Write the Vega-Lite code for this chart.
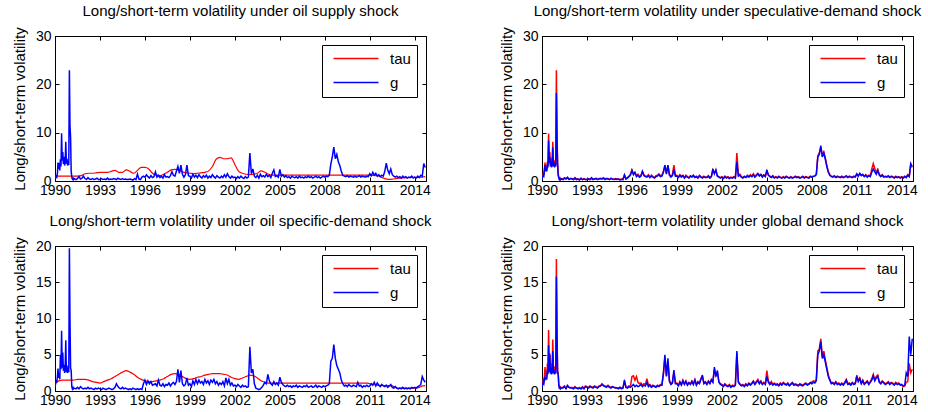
{
"$schema": "https://vega.github.io/schema/vega-lite/v6.json",
"padding": {"left": 11, "top": 3, "right": 0, "bottom": 0},
"config": {
 "font": "Liberation Sans",
 "view": {"stroke": "black", "strokeWidth": 1},
 "axis": {"grid": false, "domainColor": "black", "tickColor": "black", "labelColor": "black", "titleColor": "black", "labelFontSize": 14, "titleFontSize": 15, "titleFontWeight": "normal", "tickSize": -4, "labelOverlap": false, "labelFlush": false},
 "title": {"fontSize": 15, "fontWeight": "normal", "offset": 8, "color": "black"}
},
"datasets": {
"tau1": [
{"t":1990,"v":1.0},{"t":1990.5,"v":1.0},{"t":1991,"v":1.0},{"t":1991.5,"v":1.0},{"t":1991.75,"v":1.1},{"t":1992,"v":1.5},{"t":1992.25,"v":1.6},{"t":1992.5,"v":1.6},{"t":1992.75,"v":1.7},{"t":1993,"v":1.8},{"t":1993.25,"v":1.8},{"t":1993.5,"v":1.8},{"t":1993.75,"v":2.0},{"t":1994,"v":2.2},{"t":1994.25,"v":1.8},{"t":1994.5,"v":1.8},{"t":1994.75,"v":2.3},{"t":1995,"v":2.0},{"t":1995.25,"v":1.6},{"t":1995.5,"v":2.2},{"t":1995.75,"v":2.8},{"t":1996,"v":2.8},{"t":1996.25,"v":2.5},{"t":1996.5,"v":1.6},{"t":1996.75,"v":1.2},{"t":1997,"v":1.1},{"t":1997.25,"v":1.4},{"t":1997.5,"v":1.8},{"t":1997.75,"v":2.3},{"t":1998,"v":2.4},{"t":1998.25,"v":2.3},{"t":1998.5,"v":1.9},{"t":1998.75,"v":1.7},{"t":1999,"v":1.6},{"t":1999.25,"v":1.5},{"t":1999.5,"v":1.6},{"t":1999.75,"v":1.7},{"t":2000,"v":1.8},{"t":2000.25,"v":2.1},{"t":2000.5,"v":3.0},{"t":2000.75,"v":4.5},{"t":2001,"v":4.9},{"t":2001.25,"v":4.6},{"t":2001.5,"v":4.6},{"t":2001.75,"v":4.8},{"t":2002,"v":3.4},{"t":2002.25,"v":2.0},{"t":2002.5,"v":1.6},{"t":2002.75,"v":1.4},{"t":2003,"v":1.3},{"t":2003.25,"v":1.4},{"t":2003.5,"v":1.6},{"t":2003.75,"v":2.1},{"t":2004,"v":1.8},{"t":2004.25,"v":1.4},{"t":2004.5,"v":1.2},{"t":2005,"v":1.2},{"t":2008,"v":1.2},{"t":2011,"v":1.2},{"t":2011.5,"v":1.1},{"t":2011.75,"v":0.8},{"t":2012,"v":0.5},{"t":2012.25,"v":0.35},{"t":2012.5,"v":0.4},{"t":2012.75,"v":0.5},{"t":2013,"v":0.6},{"t":2013.5,"v":0.7},{"t":2014,"v":0.75},{"t":2014.5,"v":0.8},{"t":2014.7,"v":0.9}
],
"tau3": [
{"t":1990,"v":1.0},{"t":1990.25,"v":1.4},{"t":1990.5,"v":1.5},{"t":1990.75,"v":1.5},{"t":1991,"v":1.5},{"t":1991.25,"v":1.5},{"t":1991.5,"v":1.6},{"t":1991.75,"v":1.6},{"t":1992,"v":1.6},{"t":1992.25,"v":1.5},{"t":1992.5,"v":1.3},{"t":1992.75,"v":1.2},{"t":1993,"v":1.1},{"t":1993.25,"v":1.3},{"t":1993.5,"v":1.5},{"t":1993.75,"v":1.7},{"t":1994,"v":2.0},{"t":1994.25,"v":2.3},{"t":1994.5,"v":2.6},{"t":1994.75,"v":2.8},{"t":1995,"v":2.6},{"t":1995.25,"v":2.3},{"t":1995.5,"v":1.9},{"t":1995.75,"v":1.6},{"t":1996,"v":1.4},{"t":1996.25,"v":1.3},{"t":1996.5,"v":1.3},{"t":1996.75,"v":1.4},{"t":1997,"v":1.5},{"t":1997.25,"v":1.7},{"t":1997.5,"v":2.0},{"t":1997.75,"v":2.3},{"t":1998,"v":2.4},{"t":1998.25,"v":2.3},{"t":1998.5,"v":2.0},{"t":1998.75,"v":1.7},{"t":1999,"v":1.6},{"t":1999.25,"v":1.7},{"t":1999.5,"v":1.9},{"t":1999.75,"v":2.0},{"t":2000,"v":2.2},{"t":2000.25,"v":2.3},{"t":2000.5,"v":2.4},{"t":2000.75,"v":2.4},{"t":2001,"v":2.4},{"t":2001.25,"v":2.3},{"t":2001.5,"v":2.2},{"t":2001.75,"v":1.9},{"t":2002,"v":1.7},{"t":2002.25,"v":1.6},{"t":2002.5,"v":1.8},{"t":2002.75,"v":2.0},{"t":2003,"v":2.2},{"t":2003.25,"v":2.1},{"t":2003.5,"v":1.8},{"t":2003.75,"v":1.4},{"t":2004,"v":1.2},{"t":2004.25,"v":1.1},{"t":2005,"v":1.1},{"t":2008,"v":1.1},{"t":2010.8,"v":1.1},{"t":2011,"v":1.0},{"t":2011.5,"v":0.8},{"t":2012,"v":0.75},{"t":2012.5,"v":0.7},{"t":2012.75,"v":0.45},{"t":2013,"v":0.4},{"t":2013.5,"v":0.4},{"t":2014,"v":0.4},{"t":2014.3,"v":0.5},{"t":2014.5,"v":0.7},{"t":2014.7,"v":0.75}
],
"w": [
{"t":1990,"g1":0.4,"tau2":0.5,"g2":0.4,"g3":0.5,"tau4":0.6,"g4":0.5},
{"t":1990.04,"g1":0.7,"tau2":1.0,"g2":0.8,"g3":1.0,"tau4":1.1,"g4":0.9},
{"t":1990.08,"g1":1.0,"tau2":1.5,"g2":1.2,"g3":1.5,"tau4":1.5,"g4":1.2},
{"t":1990.12,"g1":0.8,"tau2":1.2,"g2":1.0,"g3":1.2,"tau4":1.3,"g4":1.0},
{"t":1990.16,"g1":1.5,"tau2":2.4,"g2":2.0,"g3":2.0,"tau4":2.0,"g4":1.6},
{"t":1990.2,"g1":3.8,"tau2":3.8,"g2":3.3,"g3":3.1,"tau4":3.3,"g4":2.0},
{"t":1990.24,"g1":2.5,"tau2":2.3,"g2":2.0,"g3":1.8,"tau4":2.0,"g4":1.5},
{"t":1990.28,"g1":3.7,"tau2":3.2,"g2":2.8,"g3":2.5,"tau4":2.6,"g4":2.0},
{"t":1990.32,"g1":2.2,"tau2":2.4,"g2":2.0,"g3":1.6,"tau4":2.0,"g4":1.6},
{"t":1990.36,"g1":4.5,"tau2":4.0,"g2":3.5,"g3":5.0,"tau4":3.8,"g4":3.0},
{"t":1990.4,"g1":3.0,"tau2":3.3,"g2":2.8,"g3":3.0,"tau4":2.9,"g4":2.3},
{"t":1990.44,"g1":9.9,"tau2":9.8,"g2":8.4,"g3":8.3,"tau4":8.4,"g4":6.3},
{"t":1990.48,"g1":4.2,"tau2":4.5,"g2":3.8,"g3":3.2,"tau4":3.3,"g4":2.6},
{"t":1990.52,"g1":6.0,"tau2":6.0,"g2":5.0,"g3":5.3,"tau4":5.2,"g4":5.0},
{"t":1990.56,"g1":3.5,"tau2":3.5,"g2":3.0,"g3":2.8,"tau4":3.0,"g4":2.4},
{"t":1990.6,"g1":5.0,"tau2":4.7,"g2":4.0,"g3":3.6,"tau4":3.8,"g4":3.2},
{"t":1990.64,"g1":3.2,"tau2":3.3,"g2":2.8,"g3":2.5,"tau4":2.9,"g4":2.3},
{"t":1990.68,"g1":4.0,"tau2":4.0,"g2":3.5,"g3":3.4,"tau4":3.4,"g4":2.8},
{"t":1990.72,"g1":8.1,"tau2":8.1,"g2":7.0,"g3":7.0,"tau4":7.1,"g4":5.5},
{"t":1990.76,"g1":3.6,"tau2":3.6,"g2":3.0,"g3":2.6,"tau4":3.0,"g4":2.4},
{"t":1990.8,"g1":4.6,"tau2":4.4,"g2":3.8,"g3":3.5,"tau4":3.4,"g4":2.9},
{"t":1990.84,"g1":3.2,"tau2":3.2,"g2":2.8,"g3":2.5,"tau4":2.8,"g4":2.3},
{"t":1990.88,"g1":4.0,"tau2":4.0,"g2":3.4,"g3":3.2,"tau4":3.1,"g4":2.7},
{"t":1990.92,"g1":3.3,"tau2":3.4,"g2":3.0,"g3":2.6,"tau4":2.8,"g4":2.4},
{"t":1990.96,"g1":22.9,"tau2":22.9,"g2":18.2,"g3":19.7,"tau4":18.2,"g4":15.8},
{"t":1991,"g1":11.5,"tau2":11.0,"g2":8.0,"g3":9.8,"tau4":8.3,"g4":7.5},
{"t":1991.04,"g1":9.0,"tau2":3.6,"g2":3.5,"g3":3.2,"tau4":2.8,"g4":2.5},
{"t":1991.08,"g1":2.0,"tau2":1.5,"g2":1.2,"g3":2.8,"tau4":2.5,"g4":2.3},
{"t":1991.12,"g1":0.8,"tau2":0.8,"g2":0.6,"g3":0.6,"tau4":1.0,"g4":0.8},
{"t":1991.16,"g1":0.4,"tau2":0.4,"g2":0.3,"g3":0.3,"tau4":0.5,"g4":0.4},
{"t":1991.2,"g1":0.6,"tau2":0.6,"g2":0.5,"g3":0.5,"tau4":0.6,"g4":0.5},
{"t":1991.24,"g1":0.3,"tau2":0.3,"g2":0.3,"g3":0.3,"tau4":0.4,"g4":0.3},
{"t":1991.28,"g1":0.5,"tau2":0.5,"g2":0.4,"g3":0.4,"tau4":0.5,"g4":0.4},
{"t":1991.4,"g1":0.3,"tau2":0.4,"g2":0.3,"g3":0.3,"tau4":0.5,"g4":0.4},
{"t":1991.5,"g1":0.5,"tau2":0.7,"g2":0.6,"g3":0.5,"tau4":0.7,"g4":0.6},
{"t":1991.6,"g1":0.9,"tau2":0.5,"g2":0.4,"g3":0.3,"tau4":0.4,"g4":0.3},
{"t":1991.7,"g1":0.4,"tau2":0.8,"g2":0.7,"g3":0.6,"tau4":0.8,"g4":0.7},
{"t":1991.8,"g1":0.6,"tau2":0.4,"g2":0.3,"g3":0.4,"tau4":0.5,"g4":0.5},
{"t":1991.9,"g1":1.0,"tau2":0.5,"g2":0.5,"g3":0.3,"tau4":0.5,"g4":0.4},
{"t":1992,"g1":0.5,"tau2":0.5,"g2":0.4,"g3":0.4,"tau4":0.5,"g4":0.4},
{"t":1992.1,"g1":0.3,"tau2":0.3,"g2":0.3,"g3":0.3,"tau4":0.4,"g4":0.3},
{"t":1992.2,"g1":0.7,"tau2":0.7,"g2":0.6,"g3":0.5,"tau4":0.6,"g4":0.5},
{"t":1992.3,"g1":0.4,"tau2":0.4,"g2":0.3,"g3":0.3,"tau4":0.4,"g4":0.4},
{"t":1992.4,"g1":0.3,"tau2":0.4,"g2":0.4,"g3":0.4,"tau4":0.4,"g4":0.3},
{"t":1992.5,"g1":0.5,"tau2":0.3,"g2":0.2,"g3":0.3,"tau4":0.5,"g4":0.4},
{"t":1992.6,"g1":0.3,"tau2":0.6,"g2":0.5,"g3":0.2,"tau4":0.3,"g4":0.3},
{"t":1992.7,"g1":0.4,"tau2":0.3,"g2":0.3,"g3":0.4,"tau4":0.6,"g4":0.5},
{"t":1992.8,"g1":0.6,"tau2":0.5,"g2":0.4,"g3":0.3,"tau4":0.4,"g4":0.3},
{"t":1992.9,"g1":0.3,"tau2":0.3,"g2":0.3,"g3":0.4,"tau4":0.7,"g4":0.6},
{"t":1993,"g1":0.3,"tau2":0.3,"g2":0.3,"g3":0.3,"tau4":0.6,"g4":0.5},
{"t":1993.1,"g1":0.5,"tau2":0.5,"g2":0.4,"g3":0.2,"tau4":0.5,"g4":0.4},
{"t":1993.2,"g1":0.3,"tau2":0.3,"g2":0.3,"g3":0.4,"tau4":0.7,"g4":0.6},
{"t":1993.3,"g1":0.4,"tau2":0.7,"g2":0.6,"g3":0.3,"tau4":0.6,"g4":0.5},
{"t":1993.4,"g1":0.3,"tau2":0.4,"g2":0.3,"g3":0.2,"tau4":0.5,"g4":0.4},
{"t":1993.5,"g1":0.6,"tau2":0.4,"g2":0.4,"g3":0.3,"tau4":0.7,"g4":0.6},
{"t":1993.6,"g1":0.3,"tau2":0.6,"g2":0.5,"g3":0.4,"tau4":0.6,"g4":0.5},
{"t":1993.7,"g1":0.4,"tau2":0.3,"g2":0.3,"g3":0.3,"tau4":0.5,"g4":0.4},
{"t":1993.8,"g1":0.3,"tau2":0.5,"g2":0.4,"g3":0.2,"tau4":0.7,"g4":0.6},
{"t":1993.9,"g1":0.5,"tau2":0.5,"g2":0.5,"g3":0.3,"tau4":0.7,"g4":0.7},
{"t":1994,"g1":0.4,"tau2":0.5,"g2":0.4,"g3":0.5,"tau4":1.0,"g4":0.9},
{"t":1994.1,"g1":0.3,"tau2":0.7,"g2":0.6,"g3":1.0,"tau4":0.8,"g4":0.7},
{"t":1994.2,"g1":0.6,"tau2":0.4,"g2":0.3,"g3":0.6,"tau4":0.7,"g4":0.6},
{"t":1994.3,"g1":0.4,"tau2":0.5,"g2":0.5,"g3":0.4,"tau4":0.6,"g4":0.5},
{"t":1994.4,"g1":0.3,"tau2":0.5,"g2":0.4,"g3":0.3,"tau4":0.8,"g4":0.7},
{"t":1994.5,"g1":0.5,"tau2":0.3,"g2":0.3,"g3":0.5,"tau4":0.6,"g4":0.5},
{"t":1994.6,"g1":0.3,"tau2":0.6,"g2":0.5,"g3":0.3,"tau4":0.5,"g4":0.4},
{"t":1994.7,"g1":0.4,"tau2":0.4,"g2":0.4,"g3":0.4,"tau4":0.6,"g4":0.6},
{"t":1994.8,"g1":0.3,"tau2":0.3,"g2":0.3,"g3":0.3,"tau4":0.5,"g4":0.5},
{"t":1994.9,"g1":0.3,"tau2":0.5,"g2":0.4,"g3":0.2,"tau4":0.5,"g4":0.4},
{"t":1995,"g1":0.4,"tau2":0.4,"g2":0.3,"g3":0.3,"tau4":0.4,"g4":0.4},
{"t":1995.1,"g1":0.3,"tau2":0.4,"g2":0.4,"g3":0.2,"tau4":0.4,"g4":0.3},
{"t":1995.2,"g1":0.2,"tau2":0.3,"g2":0.2,"g3":0.4,"tau4":0.5,"g4":0.5},
{"t":1995.3,"g1":0.5,"tau2":0.4,"g2":0.3,"g3":0.3,"tau4":0.4,"g4":0.3},
{"t":1995.4,"g1":0.3,"tau2":0.3,"g2":0.3,"g3":0.2,"tau4":0.4,"g4":0.4},
{"t":1995.5,"g1":1.4,"tau2":1.3,"g2":1.2,"g3":0.3,"tau4":1.3,"g4":1.5},
{"t":1995.6,"g1":0.4,"tau2":0.5,"g2":0.4,"g3":0.2,"tau4":0.6,"g4":0.5},
{"t":1995.7,"g1":0.3,"tau2":0.7,"g2":0.6,"g3":0.3,"tau4":0.5,"g4":0.4},
{"t":1995.8,"g1":0.8,"tau2":1.0,"g2":0.9,"g3":0.2,"tau4":0.7,"g4":0.6},
{"t":1995.9,"g1":1.0,"tau2":1.4,"g2":1.2,"g3":1.0,"tau4":0.6,"g4":0.5},
{"t":1996,"g1":0.8,"tau2":2.3,"g2":2.2,"g3":1.5,"tau4":2.0,"g4":0.7},
{"t":1996.1,"g1":1.3,"tau2":1.5,"g2":1.3,"g3":0.9,"tau4":2.1,"g4":0.9},
{"t":1996.2,"g1":0.9,"tau2":1.7,"g2":1.8,"g3":1.4,"tau4":1.5,"g4":0.6},
{"t":1996.3,"g1":0.6,"tau2":1.1,"g2":0.9,"g3":1.0,"tau4":2.0,"g4":0.8},
{"t":1996.4,"g1":1.1,"tau2":1.4,"g2":1.2,"g3":1.3,"tau4":1.2,"g4":0.6},
{"t":1996.5,"g1":0.7,"tau2":0.9,"g2":0.8,"g3":0.8,"tau4":1.0,"g4":0.7},
{"t":1996.6,"g1":0.9,"tau2":1.2,"g2":1.0,"g3":0.9,"tau4":1.1,"g4":0.9},
{"t":1996.7,"g1":1.9,"tau2":2.0,"g2":2.0,"g3":1.0,"tau4":0.8,"g4":0.6},
{"t":1996.8,"g1":0.8,"tau2":1.3,"g2":1.1,"g3":0.7,"tau4":1.0,"g4":0.8},
{"t":1996.9,"g1":1.2,"tau2":1.0,"g2":0.9,"g3":1.5,"tau4":0.9,"g4":0.7},
{"t":1997,"g1":0.7,"tau2":1.0,"g2":0.8,"g3":0.8,"tau4":1.7,"g4":1.2},
{"t":1997.1,"g1":1.0,"tau2":1.3,"g2":1.1,"g3":0.7,"tau4":0.8,"g4":0.6},
{"t":1997.2,"g1":0.6,"tau2":0.8,"g2":0.7,"g3":1.0,"tau4":0.9,"g4":0.8},
{"t":1997.3,"g1":1.3,"tau2":1.2,"g2":1.0,"g3":0.6,"tau4":0.6,"g4":0.5},
{"t":1997.4,"g1":0.8,"tau2":0.9,"g2":0.8,"g3":0.9,"tau4":0.8,"g4":0.7},
{"t":1997.5,"g1":0.9,"tau2":0.7,"g2":0.6,"g3":0.8,"tau4":0.7,"g4":0.6},
{"t":1997.6,"g1":0.7,"tau2":1.1,"g2":0.9,"g3":1.1,"tau4":0.6,"g4":0.5},
{"t":1997.7,"g1":1.1,"tau2":1.2,"g2":1.0,"g3":0.7,"tau4":0.8,"g4":0.7},
{"t":1997.8,"g1":1.9,"tau2":1.5,"g2":1.3,"g3":1.0,"tau4":0.7,"g4":0.6},
{"t":1997.9,"g1":1.2,"tau2":1.1,"g2":0.9,"g3":1.2,"tau4":0.9,"g4":0.8},
{"t":1998,"g1":1.0,"tau2":1.2,"g2":1.0,"g3":0.9,"tau4":0.9,"g4":0.8},
{"t":1998.1,"g1":2.0,"tau2":2.0,"g2":1.8,"g3":1.3,"tau4":2.3,"g4":2.5},
{"t":1998.2,"g1":3.0,"tau2":3.2,"g2":3.3,"g3":3.0,"tau4":4.6,"g4":5.0},
{"t":1998.3,"g1":1.6,"tau2":1.6,"g2":1.4,"g3":1.2,"tau4":2.1,"g4":2.0},
{"t":1998.4,"g1":3.3,"tau2":3.2,"g2":3.3,"g3":2.8,"tau4":4.0,"g4":4.5},
{"t":1998.5,"g1":1.4,"tau2":1.4,"g2":1.2,"g3":1.0,"tau4":1.5,"g4":1.3},
{"t":1998.6,"g1":0.8,"tau2":1.0,"g2":0.8,"g3":0.7,"tau4":1.0,"g4":0.9},
{"t":1998.7,"g1":1.3,"tau2":1.3,"g2":1.1,"g3":0.9,"tau4":1.2,"g4":1.1},
{"t":1998.8,"g1":3.3,"tau2":3.3,"g2":2.4,"g3":1.8,"tau4":2.6,"g4":2.9},
{"t":1998.9,"g1":1.1,"tau2":1.2,"g2":1.0,"g3":0.8,"tau4":1.1,"g4":1.0},
{"t":1999,"g1":1.0,"tau2":1.2,"g2":1.0,"g3":1.0,"tau4":1.1,"g4":1.0},
{"t":1999.1,"g1":0.6,"tau2":0.8,"g2":0.7,"g3":0.6,"tau4":0.8,"g4":0.7},
{"t":1999.2,"g1":1.4,"tau2":1.3,"g2":1.2,"g3":1.4,"tau4":1.3,"g4":1.2},
{"t":1999.3,"g1":0.8,"tau2":1.0,"g2":0.8,"g3":0.9,"tau4":0.9,"g4":0.8},
{"t":1999.4,"g1":1.2,"tau2":1.2,"g2":1.1,"g3":1.6,"tau4":1.5,"g4":1.4},
{"t":1999.5,"g1":0.7,"tau2":0.7,"g2":0.6,"g3":1.0,"tau4":1.0,"g4":0.9},
{"t":1999.6,"g1":1.3,"tau2":1.2,"g2":1.0,"g3":1.5,"tau4":1.4,"g4":1.3},
{"t":1999.7,"g1":0.9,"tau2":0.9,"g2":0.8,"g3":1.1,"tau4":0.9,"g4":0.8},
{"t":1999.8,"g1":0.6,"tau2":0.7,"g2":0.6,"g3":1.3,"tau4":1.2,"g4":1.1},
{"t":1999.9,"g1":1.1,"tau2":1.1,"g2":1.0,"g3":0.9,"tau4":1.0,"g4":0.9},
{"t":2000,"g1":0.8,"tau2":0.9,"g2":0.8,"g3":1.6,"tau4":1.4,"g4":1.3},
{"t":2000.1,"g1":1.2,"tau2":1.2,"g2":1.1,"g3":1.1,"tau4":1.0,"g4":0.9},
{"t":2000.2,"g1":0.6,"tau2":0.8,"g2":0.7,"g3":1.4,"tau4":1.6,"g4":1.5},
{"t":2000.3,"g1":1.0,"tau2":1.0,"g2":0.9,"g3":0.9,"tau4":0.9,"g4":0.8},
{"t":2000.4,"g1":0.7,"tau2":0.7,"g2":0.6,"g3":1.5,"tau4":1.3,"g4":1.2},
{"t":2000.5,"g1":1.3,"tau2":1.2,"g2":1.0,"g3":1.2,"tau4":1.1,"g4":1.0},
{"t":2000.6,"g1":0.9,"tau2":0.9,"g2":0.8,"g3":1.6,"tau4":1.7,"g4":1.6},
{"t":2000.7,"g1":0.6,"tau2":0.7,"g2":0.6,"g3":1.0,"tau4":2.0,"g4":2.2},
{"t":2000.8,"g1":1.1,"tau2":1.0,"g2":0.9,"g3":1.3,"tau4":1.1,"g4":1.0},
{"t":2000.9,"g1":0.8,"tau2":0.8,"g2":0.7,"g3":0.8,"tau4":1.3,"g4":1.2},
{"t":2001,"g1":0.6,"tau2":0.8,"g2":0.7,"g3":1.1,"tau4":1.0,"g4":0.9},
{"t":2001.1,"g1":1.0,"tau2":1.1,"g2":1.0,"g3":0.9,"tau4":1.4,"g4":1.3},
{"t":2001.2,"g1":0.7,"tau2":0.7,"g2":0.6,"g3":1.3,"tau4":1.1,"g4":1.0},
{"t":2001.3,"g1":1.3,"tau2":1.0,"g2":0.9,"g3":0.7,"tau4":1.6,"g4":1.5},
{"t":2001.4,"g1":0.8,"tau2":2.3,"g2":2.5,"g3":1.8,"tau4":1.3,"g4":1.2},
{"t":2001.5,"g1":1.5,"tau2":1.6,"g2":1.5,"g3":1.0,"tau4":3.0,"g4":3.3},
{"t":2001.6,"g1":0.9,"tau2":2.1,"g2":2.3,"g3":1.6,"tau4":2.1,"g4":2.0},
{"t":2001.7,"g1":0.6,"tau2":1.1,"g2":1.0,"g3":0.8,"tau4":2.6,"g4":2.8},
{"t":2001.8,"g1":1.0,"tau2":0.9,"g2":0.8,"g3":1.1,"tau4":1.3,"g4":1.2},
{"t":2001.9,"g1":0.7,"tau2":0.7,"g2":0.6,"g3":0.7,"tau4":1.0,"g4":0.9},
{"t":2002,"g1":0.8,"tau2":0.9,"g2":0.8,"g3":0.8,"tau4":0.9,"g4":0.8},
{"t":2002.1,"g1":0.5,"tau2":0.6,"g2":0.5,"g3":0.6,"tau4":0.7,"g4":0.6},
{"t":2002.2,"g1":0.9,"tau2":1.0,"g2":0.9,"g3":0.9,"tau4":1.0,"g4":0.9},
{"t":2002.3,"g1":0.6,"tau2":0.7,"g2":0.6,"g3":0.7,"tau4":0.8,"g4":0.7},
{"t":2002.4,"g1":1.0,"tau2":0.9,"g2":0.8,"g3":0.5,"tau4":0.7,"g4":0.6},
{"t":2002.5,"g1":0.7,"tau2":0.6,"g2":0.5,"g3":0.8,"tau4":0.9,"g4":0.8},
{"t":2002.6,"g1":0.5,"tau2":0.8,"g2":0.7,"g3":0.6,"tau4":0.6,"g4":0.5},
{"t":2002.7,"g1":0.9,"tau2":0.7,"g2":0.6,"g3":0.7,"tau4":0.8,"g4":0.7},
{"t":2002.8,"g1":0.6,"tau2":0.9,"g2":0.8,"g3":0.5,"tau4":0.7,"g4":0.6},
{"t":2002.9,"g1":0.8,"tau2":0.7,"g2":0.6,"g3":0.6,"tau4":0.9,"g4":0.8},
{"t":2003,"g1":5.8,"tau2":5.8,"g2":3.9,"g3":6.1,"tau4":5.2,"g4":5.5},
{"t":2003.1,"g1":1.5,"tau2":1.3,"g2":1.0,"g3":2.5,"tau4":1.3,"g4":1.2},
{"t":2003.2,"g1":2.5,"tau2":1.4,"g2":1.2,"g3":3.0,"tau4":1.0,"g4":0.9},
{"t":2003.3,"g1":1.0,"tau2":0.9,"g2":0.8,"g3":1.0,"tau4":0.8,"g4":0.7},
{"t":2003.4,"g1":0.7,"tau2":0.7,"g2":0.6,"g3":0.4,"tau4":0.9,"g4":0.8},
{"t":2003.5,"g1":1.2,"tau2":1.0,"g2":0.9,"g3":0.3,"tau4":0.7,"g4":0.6},
{"t":2003.6,"g1":0.6,"tau2":0.8,"g2":0.7,"g3":0.2,"tau4":1.0,"g4":0.9},
{"t":2003.7,"g1":1.4,"tau2":1.2,"g2":1.0,"g3":0.3,"tau4":0.8,"g4":0.7},
{"t":2003.8,"g1":0.9,"tau2":0.9,"g2":0.8,"g3":0.5,"tau4":1.1,"g4":1.0},
{"t":2003.9,"g1":1.1,"tau2":1.3,"g2":1.1,"g3":0.8,"tau4":0.9,"g4":0.8},
{"t":2004,"g1":0.8,"tau2":1.0,"g2":0.9,"g3":1.2,"tau4":1.1,"g4":1.0},
{"t":2004.1,"g1":1.4,"tau2":1.5,"g2":1.3,"g3":1.0,"tau4":1.4,"g4":1.3},
{"t":2004.2,"g1":0.9,"tau2":0.9,"g2":0.8,"g3":2.3,"tau4":1.0,"g4":0.9},
{"t":2004.3,"g1":1.2,"tau2":1.3,"g2":1.1,"g3":1.4,"tau4":1.3,"g4":1.2},
{"t":2004.4,"g1":0.7,"tau2":1.6,"g2":1.5,"g3":1.0,"tau4":1.6,"g4":1.4},
{"t":2004.5,"g1":1.6,"tau2":1.2,"g2":1.0,"g3":0.8,"tau4":1.1,"g4":1.0},
{"t":2004.6,"g1":2.3,"tau2":1.4,"g2":1.3,"g3":1.3,"tau4":1.4,"g4":1.3},
{"t":2004.7,"g1":0.9,"tau2":1.0,"g2":0.8,"g3":0.9,"tau4":1.0,"g4":0.9},
{"t":2004.8,"g1":1.1,"tau2":1.3,"g2":1.2,"g3":1.1,"tau4":1.2,"g4":1.1},
{"t":2004.9,"g1":0.8,"tau2":1.0,"g2":0.9,"g3":0.8,"tau4":1.0,"g4":0.9},
{"t":2005,"g1":2.4,"tau2":2.1,"g2":2.3,"g3":1.9,"tau4":2.8,"g4":2.0},
{"t":2005.1,"g1":1.0,"tau2":1.3,"g2":1.2,"g3":1.2,"tau4":1.4,"g4":1.2},
{"t":2005.2,"g1":1.3,"tau2":1.0,"g2":0.9,"g3":0.9,"tau4":1.0,"g4":0.9},
{"t":2005.3,"g1":0.8,"tau2":0.8,"g2":0.7,"g3":0.7,"tau4":1.3,"g4":1.1},
{"t":2005.4,"g1":1.1,"tau2":1.1,"g2":1.0,"g3":0.6,"tau4":0.9,"g4":0.8},
{"t":2005.5,"g1":0.7,"tau2":0.7,"g2":0.6,"g3":0.8,"tau4":1.1,"g4":1.0},
{"t":2005.6,"g1":0.9,"tau2":0.9,"g2":0.8,"g3":0.6,"tau4":0.9,"g4":0.8},
{"t":2005.7,"g1":0.6,"tau2":0.7,"g2":0.6,"g3":0.7,"tau4":1.0,"g4":0.9},
{"t":2005.8,"g1":1.0,"tau2":1.0,"g2":0.9,"g3":0.5,"tau4":0.8,"g4":0.7},
{"t":2005.9,"g1":0.8,"tau2":0.8,"g2":0.7,"g3":0.7,"tau4":1.1,"g4":1.0},
{"t":2006,"g1":0.7,"tau2":0.7,"g2":0.6,"g3":0.6,"tau4":0.9,"g4":0.8},
{"t":2006.1,"g1":0.9,"tau2":0.9,"g2":0.8,"g3":0.8,"tau4":1.2,"g4":1.1},
{"t":2006.2,"g1":0.6,"tau2":0.7,"g2":0.6,"g3":0.5,"tau4":1.0,"g4":0.9},
{"t":2006.3,"g1":1.0,"tau2":1.0,"g2":0.9,"g3":0.7,"tau4":0.9,"g4":0.8},
{"t":2006.4,"g1":0.7,"tau2":0.8,"g2":0.7,"g3":0.6,"tau4":1.1,"g4":1.0},
{"t":2006.5,"g1":0.8,"tau2":0.7,"g2":0.6,"g3":0.5,"tau4":0.8,"g4":0.7},
{"t":2006.6,"g1":0.6,"tau2":0.9,"g2":0.8,"g3":0.7,"tau4":1.0,"g4":0.9},
{"t":2006.7,"g1":0.9,"tau2":0.7,"g2":0.6,"g3":0.6,"tau4":1.2,"g4":1.1},
{"t":2006.8,"g1":0.7,"tau2":0.8,"g2":0.7,"g3":0.8,"tau4":0.9,"g4":0.8},
{"t":2006.9,"g1":1.0,"tau2":1.0,"g2":0.9,"g3":0.5,"tau4":1.0,"g4":0.9},
{"t":2007,"g1":0.7,"tau2":0.8,"g2":0.7,"g3":0.6,"tau4":0.9,"g4":0.8},
{"t":2007.1,"g1":0.9,"tau2":0.9,"g2":0.8,"g3":0.7,"tau4":0.8,"g4":0.7},
{"t":2007.2,"g1":0.6,"tau2":0.7,"g2":0.6,"g3":0.5,"tau4":1.0,"g4":0.9},
{"t":2007.3,"g1":0.8,"tau2":0.8,"g2":0.7,"g3":0.6,"tau4":0.9,"g4":0.8},
{"t":2007.4,"g1":1.0,"tau2":1.0,"g2":0.9,"g3":0.8,"tau4":0.8,"g4":0.7},
{"t":2007.5,"g1":0.7,"tau2":0.7,"g2":0.6,"g3":0.5,"tau4":1.0,"g4":0.9},
{"t":2007.6,"g1":0.9,"tau2":0.9,"g2":0.8,"g3":0.7,"tau4":1.1,"g4":1.0},
{"t":2007.7,"g1":0.6,"tau2":0.8,"g2":0.7,"g3":0.6,"tau4":0.9,"g4":0.8},
{"t":2007.8,"g1":0.8,"tau2":0.7,"g2":0.6,"g3":0.5,"tau4":1.0,"g4":0.9},
{"t":2007.9,"g1":1.0,"tau2":1.0,"g2":0.9,"g3":0.7,"tau4":1.2,"g4":1.1},
{"t":2008,"g1":0.8,"tau2":0.9,"g2":0.8,"g3":0.6,"tau4":1.2,"g4":1.0},
{"t":2008.1,"g1":1.0,"tau2":1.0,"g2":0.9,"g3":0.7,"tau4":1.4,"g4":1.2},
{"t":2008.2,"g1":0.9,"tau2":1.1,"g2":1.0,"g3":0.8,"tau4":1.3,"g4":1.1},
{"t":2008.3,"g1":1.2,"tau2":1.4,"g2":1.3,"g3":1.0,"tau4":1.6,"g4":1.4},
{"t":2008.4,"g1":3.5,"tau2":5.2,"g2":5.0,"g3":4.1,"tau4":5.5,"g4":5.0},
{"t":2008.5,"g1":5.0,"tau2":5.8,"g2":5.5,"g3":4.5,"tau4":5.8,"g4":5.5},
{"t":2008.6,"g1":7.0,"tau2":7.0,"g2":7.3,"g3":6.4,"tau4":7.2,"g4":6.8},
{"t":2008.7,"g1":4.6,"tau2":5.3,"g2":5.0,"g3":4.5,"tau4":4.8,"g4":4.5},
{"t":2008.8,"g1":5.5,"tau2":6.0,"g2":5.8,"g3":3.5,"tau4":5.5,"g4":5.0},
{"t":2008.9,"g1":4.0,"tau2":4.8,"g2":4.5,"g3":3.0,"tau4":4.3,"g4":4.0},
{"t":2009,"g1":3.2,"tau2":3.2,"g2":3.0,"g3":2.5,"tau4":3.3,"g4":3.0},
{"t":2009.1,"g1":2.0,"tau2":2.0,"g2":1.8,"g3":1.5,"tau4":2.2,"g4":2.0},
{"t":2009.2,"g1":1.2,"tau2":1.3,"g2":1.2,"g3":1.0,"tau4":1.6,"g4":1.5},
{"t":2009.3,"g1":1.0,"tau2":1.0,"g2":0.9,"g3":0.7,"tau4":1.1,"g4":1.0},
{"t":2009.4,"g1":0.9,"tau2":0.9,"g2":0.8,"g3":0.8,"tau4":1.2,"g4":1.1},
{"t":2009.5,"g1":1.1,"tau2":1.1,"g2":1.0,"g3":0.6,"tau4":1.0,"g4":0.9},
{"t":2009.6,"g1":0.8,"tau2":0.8,"g2":0.7,"g3":0.9,"tau4":1.3,"g4":1.2},
{"t":2009.7,"g1":1.0,"tau2":1.0,"g2":0.9,"g3":0.7,"tau4":1.0,"g4":0.9},
{"t":2009.8,"g1":0.9,"tau2":0.9,"g2":0.8,"g3":0.6,"tau4":1.1,"g4":1.0},
{"t":2009.9,"g1":0.8,"tau2":0.8,"g2":0.7,"g3":0.8,"tau4":0.9,"g4":0.8},
{"t":2010,"g1":1.0,"tau2":1.0,"g2":0.9,"g3":0.7,"tau4":1.1,"g4":1.0},
{"t":2010.1,"g1":0.8,"tau2":0.8,"g2":0.7,"g3":0.6,"tau4":0.9,"g4":0.8},
{"t":2010.2,"g1":0.9,"tau2":0.9,"g2":0.8,"g3":1.2,"tau4":1.2,"g4":1.1},
{"t":2010.3,"g1":1.1,"tau2":1.1,"g2":1.0,"g3":0.7,"tau4":1.6,"g4":1.5},
{"t":2010.4,"g1":0.8,"tau2":0.8,"g2":0.7,"g3":0.8,"tau4":1.0,"g4":0.9},
{"t":2010.5,"g1":1.0,"tau2":1.0,"g2":0.9,"g3":0.5,"tau4":1.1,"g4":1.0},
{"t":2010.6,"g1":0.9,"tau2":0.9,"g2":0.8,"g3":0.7,"tau4":0.9,"g4":0.8},
{"t":2010.7,"g1":0.8,"tau2":0.8,"g2":0.7,"g3":0.6,"tau4":1.2,"g4":1.1},
{"t":2010.8,"g1":1.0,"tau2":1.0,"g2":0.9,"g3":0.8,"tau4":1.0,"g4":0.9},
{"t":2010.9,"g1":0.9,"tau2":0.9,"g2":0.8,"g3":0.6,"tau4":1.1,"g4":1.0},
{"t":2011,"g1":1.5,"tau2":1.4,"g2":1.5,"g3":0.7,"tau4":2.2,"g4":2.0},
{"t":2011.1,"g1":1.1,"tau2":1.1,"g2":1.0,"g3":1.0,"tau4":1.4,"g4":1.3},
{"t":2011.2,"g1":1.8,"tau2":1.5,"g2":1.6,"g3":0.8,"tau4":1.8,"g4":1.7},
{"t":2011.3,"g1":1.2,"tau2":1.2,"g2":1.1,"g3":1.2,"tau4":1.1,"g4":1.0},
{"t":2011.4,"g1":1.6,"tau2":1.4,"g2":1.3,"g3":0.7,"tau4":1.5,"g4":1.4},
{"t":2011.5,"g1":1.0,"tau2":1.0,"g2":0.9,"g3":1.1,"tau4":1.0,"g4":0.9},
{"t":2011.6,"g1":1.3,"tau2":1.3,"g2":1.2,"g3":0.8,"tau4":1.2,"g4":1.1},
{"t":2011.7,"g1":0.9,"tau2":0.9,"g2":0.8,"g3":0.6,"tau4":1.4,"g4":1.3},
{"t":2011.8,"g1":1.2,"tau2":1.2,"g2":1.1,"g3":0.9,"tau4":1.0,"g4":0.9},
{"t":2011.9,"g1":1.0,"tau2":1.0,"g2":0.9,"g3":0.7,"tau4":1.3,"g4":1.2},
{"t":2012,"g1":2.0,"tau2":2.5,"g2":1.8,"g3":0.6,"tau4":1.7,"g4":1.5},
{"t":2012.1,"g1":3.7,"tau2":3.6,"g2":2.5,"g3":0.8,"tau4":2.3,"g4":2.1},
{"t":2012.2,"g1":2.2,"tau2":2.6,"g2":1.9,"g3":0.5,"tau4":1.5,"g4":1.4},
{"t":2012.3,"g1":1.5,"tau2":1.8,"g2":1.4,"g3":0.7,"tau4":2.0,"g4":1.8},
{"t":2012.4,"g1":2.5,"tau2":2.4,"g2":2.2,"g3":0.9,"tau4":2.2,"g4":2.0},
{"t":2012.5,"g1":1.3,"tau2":1.4,"g2":1.2,"g3":0.5,"tau4":1.3,"g4":1.2},
{"t":2012.6,"g1":1.0,"tau2":1.0,"g2":0.9,"g3":0.4,"tau4":1.1,"g4":1.0},
{"t":2012.7,"g1":0.8,"tau2":1.3,"g2":1.2,"g3":0.6,"tau4":1.4,"g4":1.3},
{"t":2012.8,"g1":1.0,"tau2":0.9,"g2":0.8,"g3":0.4,"tau4":1.2,"g4":1.1},
{"t":2012.9,"g1":0.7,"tau2":1.0,"g2":0.9,"g3":0.3,"tau4":1.0,"g4":0.9},
{"t":2013,"g1":0.9,"tau2":0.9,"g2":0.8,"g3":0.4,"tau4":1.1,"g4":1.0},
{"t":2013.1,"g1":0.6,"tau2":1.1,"g2":1.0,"g3":0.3,"tau4":1.3,"g4":1.2},
{"t":2013.2,"g1":1.0,"tau2":0.8,"g2":0.7,"g3":0.5,"tau4":1.0,"g4":0.9},
{"t":2013.3,"g1":0.7,"tau2":1.0,"g2":0.9,"g3":0.3,"tau4":1.2,"g4":1.1},
{"t":2013.4,"g1":0.9,"tau2":0.9,"g2":0.8,"g3":0.4,"tau4":1.1,"g4":1.0},
{"t":2013.5,"g1":0.6,"tau2":0.7,"g2":0.6,"g3":0.3,"tau4":0.9,"g4":0.8},
{"t":2013.6,"g1":0.8,"tau2":1.0,"g2":0.9,"g3":0.4,"tau4":1.2,"g4":1.1},
{"t":2013.7,"g1":0.7,"tau2":0.8,"g2":0.7,"g3":0.3,"tau4":1.0,"g4":0.9},
{"t":2013.8,"g1":1.0,"tau2":0.9,"g2":0.8,"g3":0.5,"tau4":1.1,"g4":1.0},
{"t":2013.9,"g1":0.6,"tau2":0.7,"g2":0.6,"g3":0.4,"tau4":0.9,"g4":0.8},
{"t":2014,"g1":0.8,"tau2":0.9,"g2":0.8,"g3":0.5,"tau4":0.8,"g4":0.9},
{"t":2014.1,"g1":0.6,"tau2":0.7,"g2":0.6,"g3":0.4,"tau4":0.6,"g4":0.7},
{"t":2014.2,"g1":1.0,"tau2":1.0,"g2":0.9,"g3":0.6,"tau4":0.7,"g4":0.8},
{"t":2014.3,"g1":0.7,"tau2":0.8,"g2":0.7,"g3":0.7,"tau4":1.2,"g4":2.5},
{"t":2014.4,"g1":1.2,"tau2":1.3,"g2":1.2,"g3":0.9,"tau4":1.3,"g4":2.0},
{"t":2014.5,"g1":1.0,"tau2":1.0,"g2":0.9,"g3":2.0,"tau4":3.8,"g4":7.5},
{"t":2014.6,"g1":3.6,"tau2":3.4,"g2":3.6,"g3":1.5,"tau4":2.5,"g4":5.0},
{"t":2014.7,"g1":2.8,"tau2":2.8,"g2":3.0,"g3":1.2,"tau4":3.0,"g4":7.2}
]
},
"columns": 2,
"spacing": {"row": 65, "column": 116},
"bounds": "flush",
"resolve": {"scale": {"color": "independent"}, "legend": {"color": "independent"}},
"concat": [
{
 "width": 371, "height": 145,
 "title": "Long/short-term volatility under oil supply shock",
 "layer": [
  {"data": {"name": "tau1"}, "mark": {"type": "line", "strokeWidth": 1.2, "interpolate": "monotone", "clip": true},
   "encoding": {
    "x": {"field": "t", "type": "quantitative", "scale": {"domain": [1990, 2014.75], "nice": false, "zero": false}, "axis": {"orient": "top", "labels": false, "title": null, "domain": false, "values": [1990,1993,1996,1999,2002,2005,2008,2011,2014]}},
    "y": {"field": "v", "type": "quantitative", "scale": {"domain": [0, 30], "nice": false}, "axis": {"orient": "right", "labels": false, "title": null, "domain": false, "values": [0,10,20,30]}},
    "color": {"datum": "tau", "type": "nominal", "scale": {"domain": ["tau", "g"], "range": ["#ff0000", "#0000ff"]},
      "legend": {"title": null, "orient": "top-right", "offset": 9, "strokeColor": "black", "fillColor": "white", "padding": 6, "labelFontSize": 15, "labelColor": "black", "symbolType": "M-0.4,0H8.6", "symbolSize": 100, "symbolStrokeWidth": 1.5, "labelOffset": 47, "rowPadding": 8}}
   }},
  {"data": {"name": "w"}, "mark": {"type": "line", "strokeWidth": 1.5, "clip": true},
   "encoding": {
    "x": {"field": "t", "type": "quantitative", "scale": {"domain": [1990, 2014.75], "nice": false, "zero": false}, "axis": {"orient": "bottom", "title": null, "format": "d", "labelPadding": 6, "values": [1990,1993,1996,1999,2002,2005,2008,2011,2014]}},
    "y": {"field": "g1", "type": "quantitative", "scale": {"domain": [0, 30], "nice": false}, "axis": {"orient": "left", "title": "Long/short-term volatility", "labelPadding": 8, "titlePadding": 8, "values": [0,10,20,30]}},
    "color": {"datum": "g", "type": "nominal"}
   }}
 ]
},
{
 "width": 371, "height": 145,
 "title": "Long/short-term volatility under speculative-demand shock",
 "layer": [
  {"data": {"name": "w"}, "mark": {"type": "line", "strokeWidth": 1.5, "clip": true},
   "encoding": {
    "x": {"field": "t", "type": "quantitative", "scale": {"domain": [1990, 2014.75], "nice": false, "zero": false}, "axis": {"orient": "top", "labels": false, "title": null, "domain": false, "values": [1990,1993,1996,1999,2002,2005,2008,2011,2014]}},
    "y": {"field": "tau2", "type": "quantitative", "scale": {"domain": [0, 30], "nice": false}, "axis": {"orient": "right", "labels": false, "title": null, "domain": false, "values": [0,10,20,30]}},
    "color": {"datum": "tau", "type": "nominal", "scale": {"domain": ["tau", "g"], "range": ["#ff0000", "#0000ff"]},
      "legend": {"title": null, "orient": "top-right", "offset": 9, "strokeColor": "black", "fillColor": "white", "padding": 6, "labelFontSize": 15, "labelColor": "black", "symbolType": "M-0.4,0H8.6", "symbolSize": 100, "symbolStrokeWidth": 1.5, "labelOffset": 47, "rowPadding": 8}}
   }},
  {"data": {"name": "w"}, "mark": {"type": "line", "strokeWidth": 1.5, "clip": true},
   "encoding": {
    "x": {"field": "t", "type": "quantitative", "scale": {"domain": [1990, 2014.75], "nice": false, "zero": false}, "axis": {"orient": "bottom", "title": null, "format": "d", "labelPadding": 6, "values": [1990,1993,1996,1999,2002,2005,2008,2011,2014]}},
    "y": {"field": "g2", "type": "quantitative", "scale": {"domain": [0, 30], "nice": false}, "axis": {"orient": "left", "title": "Long/short-term volatility", "labelPadding": 8, "titlePadding": 8, "values": [0,10,20,30]}},
    "color": {"datum": "g", "type": "nominal"}
   }}
 ]
},
{
 "width": 371, "height": 145,
 "title": "Long/short-term volatility under oil specific-demand shock",
 "layer": [
  {"data": {"name": "tau3"}, "mark": {"type": "line", "strokeWidth": 1.2, "interpolate": "monotone", "clip": true},
   "encoding": {
    "x": {"field": "t", "type": "quantitative", "scale": {"domain": [1990, 2014.75], "nice": false, "zero": false}, "axis": {"orient": "top", "labels": false, "title": null, "domain": false, "values": [1990,1993,1996,1999,2002,2005,2008,2011,2014]}},
    "y": {"field": "v", "type": "quantitative", "scale": {"domain": [0, 20], "nice": false}, "axis": {"orient": "right", "labels": false, "title": null, "domain": false, "values": [0,5,10,15,20]}},
    "color": {"datum": "tau", "type": "nominal", "scale": {"domain": ["tau", "g"], "range": ["#ff0000", "#0000ff"]},
      "legend": {"title": null, "orient": "top-right", "offset": 9, "strokeColor": "black", "fillColor": "white", "padding": 6, "labelFontSize": 15, "labelColor": "black", "symbolType": "M-0.4,0H8.6", "symbolSize": 100, "symbolStrokeWidth": 1.5, "labelOffset": 47, "rowPadding": 8}}
   }},
  {"data": {"name": "w"}, "mark": {"type": "line", "strokeWidth": 1.5, "clip": true},
   "encoding": {
    "x": {"field": "t", "type": "quantitative", "scale": {"domain": [1990, 2014.75], "nice": false, "zero": false}, "axis": {"orient": "bottom", "title": null, "format": "d", "labelPadding": 6, "values": [1990,1993,1996,1999,2002,2005,2008,2011,2014]}},
    "y": {"field": "g3", "type": "quantitative", "scale": {"domain": [0, 20], "nice": false}, "axis": {"orient": "left", "title": "Long/short-term volatility", "labelPadding": 8, "titlePadding": 8, "values": [0,5,10,15,20]}},
    "color": {"datum": "g", "type": "nominal"}
   }}
 ]
},
{
 "width": 371, "height": 145,
 "title": "Long/short-term volatility under global demand shock",
 "layer": [
  {"data": {"name": "w"}, "mark": {"type": "line", "strokeWidth": 1.5, "clip": true},
   "encoding": {
    "x": {"field": "t", "type": "quantitative", "scale": {"domain": [1990, 2014.75], "nice": false, "zero": false}, "axis": {"orient": "top", "labels": false, "title": null, "domain": false, "values": [1990,1993,1996,1999,2002,2005,2008,2011,2014]}},
    "y": {"field": "tau4", "type": "quantitative", "scale": {"domain": [0, 20], "nice": false}, "axis": {"orient": "right", "labels": false, "title": null, "domain": false, "values": [0,5,10,15,20]}},
    "color": {"datum": "tau", "type": "nominal", "scale": {"domain": ["tau", "g"], "range": ["#ff0000", "#0000ff"]},
      "legend": {"title": null, "orient": "top-right", "offset": 9, "strokeColor": "black", "fillColor": "white", "padding": 6, "labelFontSize": 15, "labelColor": "black", "symbolType": "M-0.4,0H8.6", "symbolSize": 100, "symbolStrokeWidth": 1.5, "labelOffset": 47, "rowPadding": 8}}
   }},
  {"data": {"name": "w"}, "mark": {"type": "line", "strokeWidth": 1.5, "clip": true},
   "encoding": {
    "x": {"field": "t", "type": "quantitative", "scale": {"domain": [1990, 2014.75], "nice": false, "zero": false}, "axis": {"orient": "bottom", "title": null, "format": "d", "labelPadding": 6, "values": [1990,1993,1996,1999,2002,2005,2008,2011,2014]}},
    "y": {"field": "g4", "type": "quantitative", "scale": {"domain": [0, 20], "nice": false}, "axis": {"orient": "left", "title": "Long/short-term volatility", "labelPadding": 8, "titlePadding": 8, "values": [0,5,10,15,20]}},
    "color": {"datum": "g", "type": "nominal"}
   }}
 ]
}
]
}
